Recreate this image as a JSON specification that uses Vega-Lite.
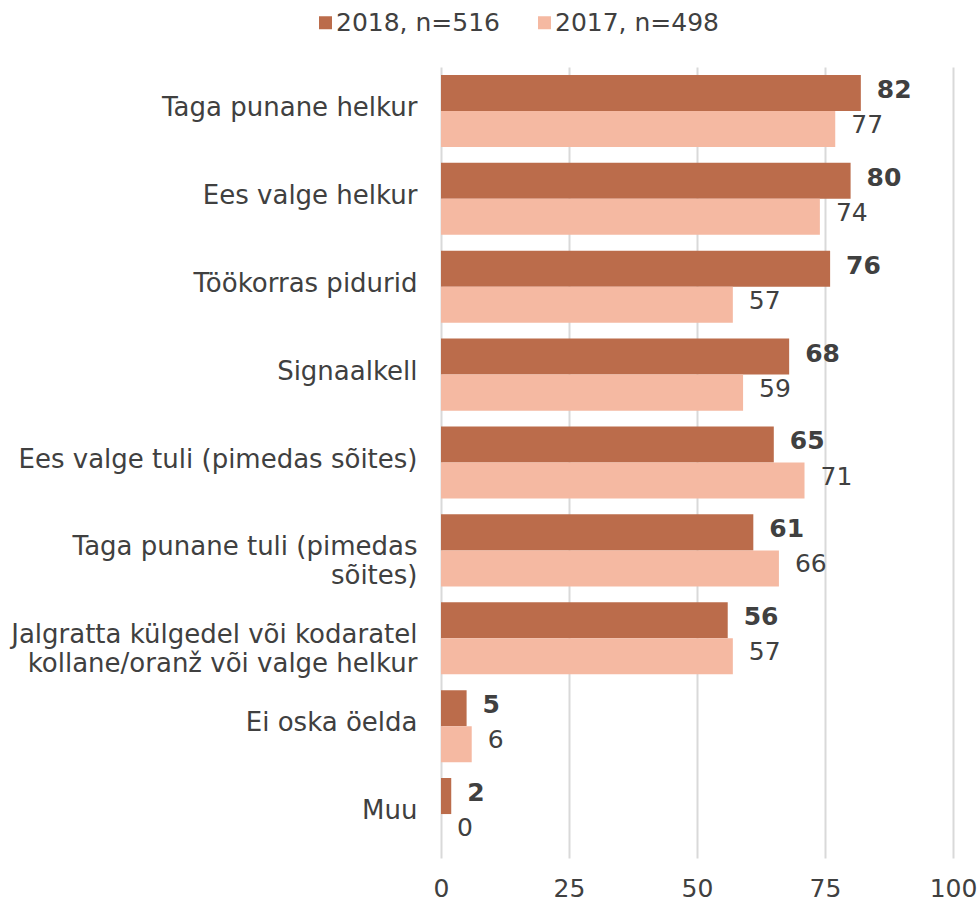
{
  "$schema": "https://vega.github.io/schema/vega-lite/v6.json",
  "width": 512,
  "height": 791,
  "autosize": {"type": "none"},
  "padding": {"left": 441, "top": 67, "right": 27, "bottom": 44},
  "background": "white",
  "config": {
    "font": "DejaVu Sans",
    "view": {"stroke": null},
    "axis": {"labelFont": "DejaVu Sans", "labelColor": "#404040", "labelFontSize": 25}
  },
  "data": {
    "values": [
      {"cat": "Taga punane helkur", "o": 1, "series": "2018, n=516", "value": 82},
      {"cat": "Taga punane helkur", "o": 1, "series": "2017, n=498", "value": 77},
      {"cat": "Ees valge helkur", "o": 2, "series": "2018, n=516", "value": 80},
      {"cat": "Ees valge helkur", "o": 2, "series": "2017, n=498", "value": 74},
      {"cat": "Töökorras pidurid", "o": 3, "series": "2018, n=516", "value": 76},
      {"cat": "Töökorras pidurid", "o": 3, "series": "2017, n=498", "value": 57},
      {"cat": "Signaalkell", "o": 4, "series": "2018, n=516", "value": 68},
      {"cat": "Signaalkell", "o": 4, "series": "2017, n=498", "value": 59},
      {"cat": "Ees valge tuli (pimedas sõites)", "o": 5, "series": "2018, n=516", "value": 65},
      {"cat": "Ees valge tuli (pimedas sõites)", "o": 5, "series": "2017, n=498", "value": 71},
      {"cat": "Taga punane tuli (pimedas|sõites)", "o": 6, "series": "2018, n=516", "value": 61},
      {"cat": "Taga punane tuli (pimedas|sõites)", "o": 6, "series": "2017, n=498", "value": 66},
      {"cat": "Jalgratta külgedel või kodaratel|kollane/oranž  või valge helkur", "o": 7, "series": "2018, n=516", "value": 56},
      {"cat": "Jalgratta külgedel või kodaratel|kollane/oranž  või valge helkur", "o": 7, "series": "2017, n=498", "value": 57},
      {"cat": "Ei oska öelda", "o": 8, "series": "2018, n=516", "value": 5},
      {"cat": "Ei oska öelda", "o": 8, "series": "2017, n=498", "value": 6},
      {"cat": "Muu", "o": 9, "series": "2018, n=516", "value": 2},
      {"cat": "Muu", "o": 9, "series": "2017, n=498", "value": 0}
    ]
  },
  "encoding": {
    "y": {
      "field": "cat",
      "type": "nominal",
      "sort": {"field": "o", "op": "min", "order": "ascending"},
      "scale": {"paddingInner": 0.18, "paddingOuter": 0.09},
      "axis": {
        "title": null,
        "ticks": false,
        "domain": false,
        "labelPadding": 24,
        "labelOffset": -3,
        "labelFontSize": 26,
        "labelLimit": 600,
        "labelLineHeight": 29,
        "labelExpr": "split(datum.label, '|')"
      }
    },
    "yOffset": {
      "field": "series",
      "type": "nominal",
      "sort": ["2018, n=516", "2017, n=498"]
    },
    "x": {
      "field": "value",
      "type": "quantitative",
      "scale": {"domain": [0, 100], "nice": false},
      "axis": {
        "title": null,
        "values": [0, 25, 50, 75, 100],
        "ticks": false,
        "domain": false,
        "grid": true,
        "gridColor": "#d9d9d9",
        "gridWidth": 2,
        "labelFlush": false,
        "labelPadding": 18
      }
    }
  },
  "layer": [
    {
      "mark": {"type": "bar"},
      "encoding": {
        "color": {
          "field": "series",
          "type": "nominal",
          "sort": ["2018, n=516", "2017, n=498"],
          "scale": {"domain": ["2018, n=516", "2017, n=498"], "range": ["#bb6c4b", "#f5b9a2"]},
          "legend": {
            "title": null,
            "orient": "none",
            "direction": "horizontal",
            "legendX": -128,
            "legendY": -57,
            "symbolType": "square",
            "symbolSize": 169,
            "symbolStrokeWidth": 0,
            "labelFontSize": 25,
            "labelLimit": 400,
            "labelColor": "#404040",
            "labelFont": "DejaVu Sans",
            "columnPadding": 31,
            "labelOffset": -2
          }
        }
      }
    },
    {
      "transform": [{"filter": "datum.series == '2018, n=516'"}],
      "mark": {"type": "text", "align": "left", "baseline": "middle", "dx": 16, "dy": -3, "fontSize": 25, "fontWeight": "bold", "color": "#404040"},
      "encoding": {"text": {"field": "value", "type": "quantitative"}}
    },
    {
      "transform": [{"filter": "datum.series == '2017, n=498'"}],
      "mark": {"type": "text", "align": "left", "baseline": "middle", "dx": 16, "dy": -4, "fontSize": 25, "color": "#404040"},
      "encoding": {"text": {"field": "value", "type": "quantitative"}}
    }
  ]
}
